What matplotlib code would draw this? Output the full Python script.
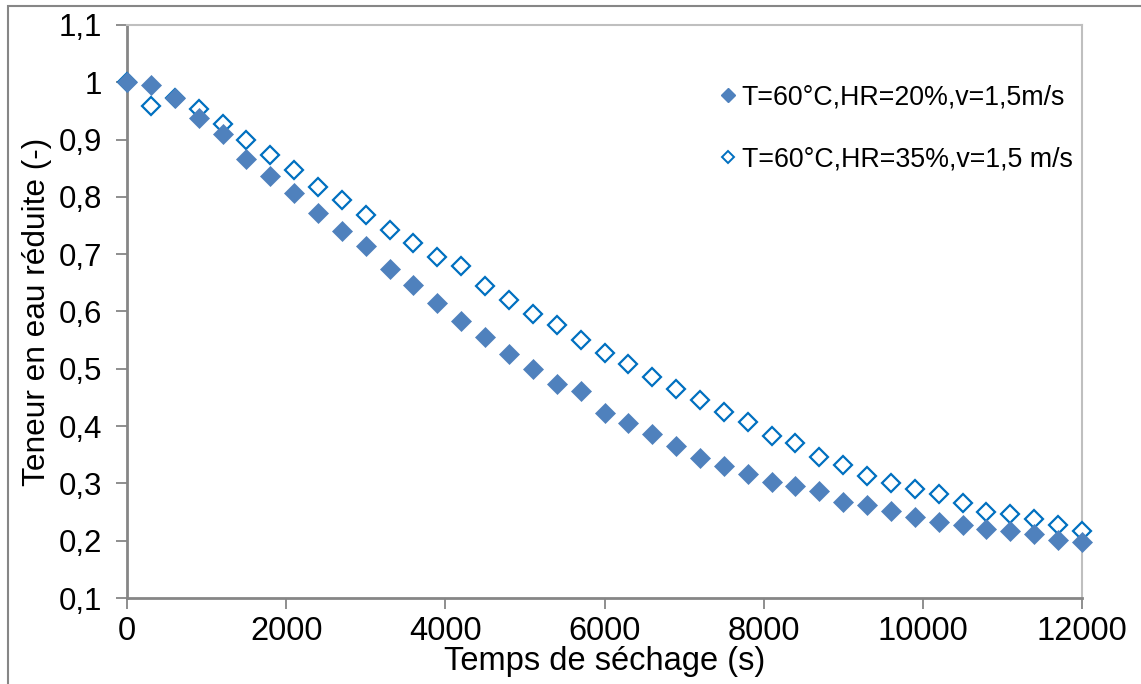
# Courbes de séchage : teneur en eau réduite vs temps
import matplotlib
matplotlib.use('Agg')
import matplotlib.pyplot as plt
from matplotlib.patches import Rectangle

temps = [0, 300, 600, 900, 1200, 1500, 1800, 2100, 2400, 2700,
         3000, 3300, 3600, 3900, 4200, 4500, 4800, 5100, 5400, 5700,
         6000, 6300, 6600, 6900, 7200, 7500, 7800, 8100, 8400, 8700,
         9000, 9300, 9600, 9900, 10200, 10500, 10800, 11100, 11400, 11700,
         12000]
hr20 = [1.000, 0.996, 0.972, 0.937, 0.909, 0.867, 0.837, 0.806, 0.772, 0.740,
        0.715, 0.675, 0.646, 0.615, 0.583, 0.555, 0.525, 0.500, 0.474, 0.461,
        0.423, 0.405, 0.386, 0.365, 0.345, 0.331, 0.317, 0.303, 0.295, 0.286,
        0.268, 0.262, 0.252, 0.242, 0.232, 0.227, 0.220, 0.217, 0.211, 0.202,
        0.198]
hr35 = [1.000, 0.959, 0.972, 0.953, 0.928, 0.899, 0.873, 0.847, 0.818, 0.795,
        0.768, 0.742, 0.719, 0.695, 0.680, 0.645, 0.620, 0.596, 0.577, 0.551,
        0.528, 0.508, 0.486, 0.464, 0.445, 0.424, 0.408, 0.383, 0.371, 0.346,
        0.332, 0.313, 0.301, 0.291, 0.281, 0.265, 0.250, 0.246, 0.238, 0.227,
        0.217]
label20 = 'T=60°C,HR=20%,v=1,5m/s'
label35 = 'T=60°C,HR=35%,v=1,5 m/s'
y_ticks = [0.1, 0.2, 0.3, 0.4, 0.5, 0.6, 0.7, 0.8, 0.9, 1.0, 1.1]
y_labels = ['0,1', '0,2', '0,3', '0,4', '0,5', '0,6', '0,7', '0,8', '0,9', '1', '1,1']
x_ticks = [0, 2000, 4000, 6000, 8000, 10000, 12000]

plt.rcParams['font.family'] = ['Liberation Sans', 'DejaVu Sans']

fig = plt.figure(figsize=(11.41, 6.84), dpi=100)
ax = fig.add_axes([127 / 1141, 1 - 598 / 684, (1082 - 127) / 1141, (598 - 25) / 684])

# cadre autour du graphique
fig.patches.append(Rectangle((8 / 1141, -0.05), 1.2, 1 - 6 / 684 + 0.05,
                             transform=fig.transFigure, fill=False,
                             ec='#868686', lw=1.5))

p35, = ax.plot(temps, hr35, 'D', ms=9, mfc='white', mec='#0070C0', mew=1.6,
               clip_on=False, zorder=3)
p20, = ax.plot(temps, hr20, 'D', ms=10.5, mfc='#4F81BD', mec='#4F81BD', mew=0.5,
               clip_on=False, zorder=4)

ax.set_xlim(0, 12000)
ax.set_ylim(0.1, 1.1)
ax.set_xticks(x_ticks)
ax.set_xticklabels([str(v) for v in x_ticks])
ax.set_yticks(y_ticks)
ax.set_yticklabels(y_labels)
ax.tick_params(axis='both', direction='out', length=8,
               width=1.3, color='#868686', labelcolor='black')
ax.tick_params(axis='y', pad=10, labelsize=22.5)
ax.tick_params(axis='x', pad=5, labelsize=23.5)

for side in ['left', 'bottom']:
    ax.spines[side].set_color('#868686')
    ax.spines[side].set_linewidth(2)
for side in ['top', 'right']:
    ax.spines[side].set_color('#BFBFBF')
    ax.spines[side].set_linewidth(1.5)

ax.set_xlabel('Temps de séchage (s)', fontsize=23.5, labelpad=-1)
ax.set_ylabel('Teneur en eau réduite (-)', fontsize=22.8, labelpad=5)

p20_leg, = ax.plot([], [], 'D', ms=7, mfc='#4F81BD', mec='#4F81BD')
p35_leg, = ax.plot([], [], 'D', ms=6.5, mfc='white', mec='#0070C0', mew=1.4)
ax.legend([p20_leg, p35_leg], [label20, label35], frameon=False, fontsize=19.3,
          loc='upper left', bbox_to_anchor=(0.61, 0.915), handlelength=0.6,
          handletextpad=0.2, labelspacing=1.35, borderaxespad=0)

plt.savefig('out.png', dpi=100)
